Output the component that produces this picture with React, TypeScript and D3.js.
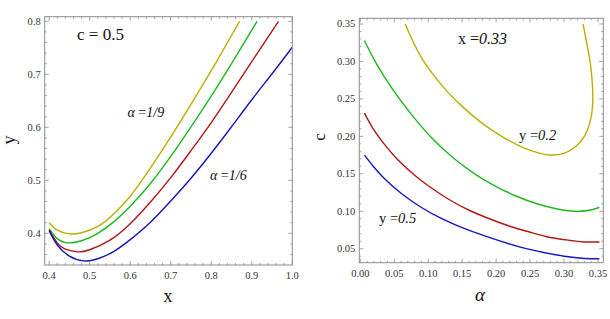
import React from "react";
import * as d3 from "d3";

// Left panel (c = 0.5): y vs x
const leftYellow: [number, number][] = [[0.40,0.420],[0.42,0.406],[0.45,0.399],[0.48,0.401],[0.52,0.413],[0.56,0.437],[0.60,0.470],[0.64,0.512],[0.68,0.558],[0.72,0.606],[0.76,0.656],[0.80,0.707],[0.84,0.760],[0.87,0.800]];
const leftGreen: [number, number][] = [[0.40,0.409],[0.42,0.390],[0.445,0.382],[0.48,0.386],[0.52,0.400],[0.56,0.422],[0.60,0.451],[0.65,0.494],[0.70,0.545],[0.75,0.601],[0.80,0.659],[0.85,0.720],[0.913,0.800]];
const leftRed: [number, number][] = [[0.40,0.406],[0.42,0.382],[0.44,0.370],[0.47,0.365],[0.50,0.369],[0.55,0.387],[0.60,0.418],[0.65,0.459],[0.70,0.505],[0.75,0.556],[0.80,0.609],[0.85,0.666],[0.90,0.724],[0.966,0.800]];
const leftBlue: [number, number][] = [[0.40,0.405],[0.42,0.378],[0.45,0.357],[0.485,0.348],[0.52,0.352],[0.56,0.366],[0.60,0.388],[0.65,0.421],[0.70,0.461],[0.75,0.504],[0.80,0.551],[0.85,0.601],[0.90,0.652],[0.95,0.701],[1.0,0.751]];

// Right panel (x = 0.33): c vs alpha
const rightYellow: [number, number][] = [[0.066,0.35],[0.09,0.305],[0.12,0.268],[0.15,0.240],[0.18,0.217],[0.21,0.199],[0.24,0.185],[0.262,0.178],[0.282,0.175],[0.302,0.178],[0.318,0.187],[0.330,0.200],[0.338,0.218],[0.342,0.240],[0.342,0.265],[0.339,0.295],[0.334,0.322],[0.328,0.35]];
const rightGreen: [number, number][] = [[0.006,0.328],[0.02,0.303],[0.035,0.280],[0.056,0.252],[0.08,0.224],[0.105,0.198],[0.137,0.171],[0.17,0.149],[0.20,0.133],[0.23,0.120],[0.26,0.110],[0.29,0.103],[0.314,0.100],[0.335,0.101],[0.352,0.105]];
const rightRed: [number, number][] = [[0.006,0.231],[0.019,0.210],[0.035,0.190],[0.056,0.168],[0.08,0.148],[0.10,0.134],[0.13,0.116],[0.161,0.101],[0.19,0.090],[0.22,0.080],[0.25,0.072],[0.28,0.065],[0.31,0.061],[0.33,0.059],[0.352,0.059]];
const rightBlue: [number, number][] = [[0.006,0.175],[0.019,0.160],[0.035,0.144],[0.06,0.124],[0.09,0.105],[0.12,0.090],[0.15,0.078],[0.18,0.068],[0.21,0.059],[0.24,0.051],[0.27,0.045],[0.30,0.040],[0.33,0.037],[0.352,0.0365]];

const leftXTicks = [0.4, 0.5, 0.6, 0.7, 0.8, 0.9, 1.0];
const leftYTicks = [0.4, 0.5, 0.6, 0.7, 0.8];
const rightXTicks = [0, 0.05, 0.1, 0.15, 0.2, 0.25, 0.3, 0.35];
const rightYTicks = [0.05, 0.1, 0.15, 0.2, 0.25, 0.3, 0.35];

const COLORS = { yellow: "#b8b000", green: "#1cb81c", red: "#b31515", blue: "#1515c0" };
const FRAME = "#8c8c8c";
const SERIF = "'Liberation Serif', 'DejaVu Serif', serif";

type Series = { data: [number, number][]; color: string; curve: d3.CurveFactory };
type Panel = {
  id: string;
  x0: number; x1: number; y0: number; y1: number;
  xd: [number, number]; yd: [number, number];
  xTicks: number[]; yTicks: number[]; xMinorStep: number; yMinorStep: number;
  xFmt: (v: number) => string; yFmt: (v: number) => string;
  series: Series[];
};

function Frame({ p }: { p: Panel }) {
  const xs = d3.scaleLinear().domain(p.xd).range([p.x0, p.x1]);
  const ys = d3.scaleLinear().domain(p.yd).range([p.y1, p.y0]);
  const minorX = d3.range(Math.ceil(p.xd[0] / p.xMinorStep - 1e-6), Math.floor(p.xd[1] / p.xMinorStep + 1e-6) + 1).map((i) => i * p.xMinorStep);
  const minorY = d3.range(Math.ceil(p.yd[0] / p.yMinorStep - 1e-6), Math.floor(p.yd[1] / p.yMinorStep + 1e-6) + 1).map((i) => i * p.yMinorStep);
  const isMajor = (v: number, ticks: number[]) => ticks.some((t) => Math.abs(t - v) < 1e-6);
  return (
    <g>
      <defs>
        <clipPath id={`clip-${p.id}`}>
          <rect x={p.x0} y={p.y0} width={p.x1 - p.x0} height={p.y1 - p.y0} />
        </clipPath>
      </defs>
      <g clipPath={`url(#clip-${p.id})`}>
        {p.series.map((s, i) => {
          const line = d3.line<[number, number]>().x((d) => xs(d[0])).y((d) => ys(d[1])).curve(s.curve);
          return <path key={i} d={line(s.data) || ""} fill="none" stroke={s.color} strokeWidth={1.4} />;
        })}
      </g>
      <rect x={p.x0} y={p.y0} width={p.x1 - p.x0} height={p.y1 - p.y0} fill="none" stroke={FRAME} strokeWidth={1} />
      {minorX.map((v, i) => {
        const L = isMajor(v, p.xTicks) ? 4 : 2;
        const x = xs(v);
        return (
          <g key={"mx" + i} stroke={FRAME} strokeWidth={0.8}>
            <line x1={x} x2={x} y1={p.y1} y2={p.y1 - L} />
            <line x1={x} x2={x} y1={p.y0} y2={p.y0 + L} />
          </g>
        );
      })}
      {minorY.map((v, i) => {
        const L = isMajor(v, p.yTicks) ? 4 : 2;
        const y = ys(v);
        return (
          <g key={"my" + i} stroke={FRAME} strokeWidth={0.8}>
            <line x1={p.x0} x2={p.x0 + L} y1={y} y2={y} />
            <line x1={p.x1} x2={p.x1 - L} y1={y} y2={y} />
          </g>
        );
      })}
      {p.xTicks.map((v, i) => (
        <text key={"xt" + i} x={xs(v)} y={p.y1 + 14} textAnchor="middle" fontFamily={SERIF} fontSize={10.5} fill="#333">
          {p.xFmt(v)}
        </text>
      ))}
      {p.yTicks.map((v, i) => (
        <text key={"yt" + i} x={p.x0 - 4} y={ys(v) + 3.5} textAnchor="end" fontFamily={SERIF} fontSize={10.5} fill="#333">
          {p.yFmt(v)}
        </text>
      ))}
    </g>
  );
}

export default function App() {
  const nat = d3.curveNatural;
  const left: Panel = {
    id: "left",
    x0: 44.7, x1: 292.3, y0: 16.7, y1: 265,
    xd: [0.389, 1.0], yd: [0.3402, 0.8087],
    xTicks: leftXTicks, yTicks: leftYTicks, xMinorStep: 0.02, yMinorStep: 0.02,
    xFmt: d3.format(".1f"), yFmt: d3.format(".1f"),
    series: [
      { data: leftYellow, color: COLORS.yellow, curve: nat },
      { data: leftGreen, color: COLORS.green, curve: nat },
      { data: leftRed, color: COLORS.red, curve: nat },
      { data: leftBlue, color: COLORS.blue, curve: nat },
    ],
  };
  const right: Panel = {
    id: "right",
    x0: 359.3, x1: 603.3, y0: 18.3, y1: 262.7,
    xd: [-0.0015, 0.3578], yd: [0.0313, 0.3576],
    xTicks: rightXTicks, yTicks: rightYTicks, xMinorStep: 0.01, yMinorStep: 0.01,
    xFmt: d3.format(".2f"), yFmt: d3.format(".2f"),
    series: [
      { data: rightYellow, color: COLORS.yellow, curve: d3.curveCatmullRom.alpha(0.5) },
      { data: rightGreen, color: COLORS.green, curve: nat },
      { data: rightRed, color: COLORS.red, curve: nat },
      { data: rightBlue, color: COLORS.blue, curve: nat },
    ],
  };
  return (
    <svg width={610} height={319} style={{ position: "absolute", left: 0, top: 0, background: "#fff" }}>
      <Frame p={left} />
      <Frame p={right} />
      {/* left annotations */}
      <text x={77} y={40} fontFamily={SERIF} fontSize={17} fill="#111">c = 0.5</text>
      <text x={127.5} y={116.5} fontFamily={SERIF} fontSize={14} fill="#111">
        <tspan fontStyle="italic">α</tspan> =<tspan fontStyle="italic">1/9</tspan>
      </text>
      <text x={210} y={180} fontFamily={SERIF} fontSize={14} fill="#111">
        <tspan fontStyle="italic">α</tspan> =<tspan fontStyle="italic">1/6</tspan>
      </text>
      <text x={168} y={302} textAnchor="middle" fontFamily={SERIF} fontSize={18} fill="#111">x</text>
      <text transform="translate(15,140) rotate(-90)" textAnchor="middle" fontFamily={SERIF} fontSize={18} fill="#111">y</text>
      {/* right annotations */}
      <text x={458} y={43.5} fontFamily={SERIF} fontSize={16} fill="#111">
        x =<tspan fontStyle="italic">0.33</tspan>
      </text>
      <text x={519} y={140} fontFamily={SERIF} fontSize={14.5} fill="#111">
        y =<tspan fontStyle="italic">0.2</tspan>
      </text>
      <text x={379} y={223} fontFamily={SERIF} fontSize={14.5} fill="#111">
        y =<tspan fontStyle="italic">0.5</tspan>
      </text>
      <text x={480} y={301} textAnchor="middle" fontFamily={SERIF} fontSize={19} fontStyle="italic" fill="#111">α</text>
      <text transform="translate(325,137) rotate(-90)" textAnchor="middle" fontFamily={SERIF} fontSize={17} fill="#111">c</text>
    </svg>
  );
}
